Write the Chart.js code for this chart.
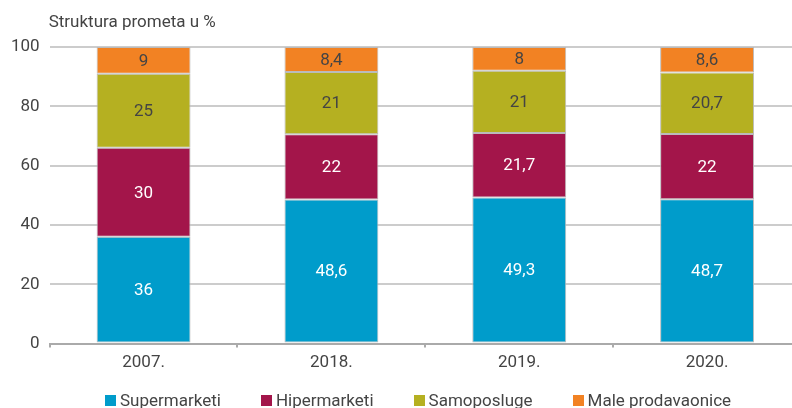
<!DOCTYPE html>
<html>
<head>
<meta charset="utf-8">
<script src="https://cdn.jsdelivr.net/npm/chart.js@4"></script>
<style>
  html, body { margin: 0; padding: 0; background: #fff; overflow: hidden; }
  .wrap { position: relative; width: 792px; height: 408px; overflow: hidden; }
  #chartLegend {
    position: absolute; left: 105px; top: 390px;
    display: flex; font: 17px Roboto, sans-serif; color: #444;
    white-space: nowrap; line-height: 20px;
  }
  .chart-legend-item { display: flex; align-items: center; margin-right: 40px; }
  .chart-legend-item span { display: inline-block; width: 11px; height: 11px; margin-right: 4px; }
</style>
</head>
<body>
<div class="wrap">
  <canvas id="chart" width="801" height="408"></canvas>
  <div id="chartLegend"></div>
</div>
<script>
const years = ["2007.", "2018.", "2019.", "2020."];
const supermarketi = [36, 48.6, 49.3, 48.7];
const hipermarketi = [30, 22, 21.7, 22];
const samoposluge = [25, 21, 21, 20.7];
const maleProdavaonice = [9, 8.4, 8, 8.6];
const yTicks = [0, 20, 40, 60, 80, 100];

const textColor = "#444444";
const fontName = "Roboto";

// title drawn above the plot, left-aligned with the chart area
const titleLabel = {
  id: "titleLabel",
  afterDraw: (chart) => {
    const { ctx, chartArea } = chart;
    ctx.save();
    ctx.font = "17px " + fontName;
    ctx.fillStyle = textColor;
    ctx.textAlign = "left";
    ctx.textBaseline = "middle";
    ctx.fillText("Struktura prometa u %", chartArea.left - 1, 23);
    ctx.restore();
  },
};

// labels in the middle of each bar segment
const barLabels = {
  id: "barLabels",
  afterDatasetsDraw: (chart) => {
    const { ctx } = chart;
    ctx.save();
    ctx.font = "17px " + fontName;
    ctx.textAlign = "center";
    ctx.textBaseline = "middle";
    chart.data.datasets.forEach((dataset, i) => {
      const meta = chart.getDatasetMeta(i);
      meta.data.forEach((bar, j) => {
        const v = dataset.data[j];
        const yMid = (bar.y + bar.base) / 2;
        ctx.fillStyle = dataset.labelColor;
        ctx.fillText(String(v).replace(".", ","), bar.x, yMid + 1);
      });
    });
    ctx.restore();
  },
};

const ctx = document.getElementById("chart").getContext("2d");
const chartBar = new Chart(ctx, {
  type: "bar",
  data: {
    labels: years,
    datasets: [
      { label: "Supermarketi", data: supermarketi, backgroundColor: "#009CCB", labelColor: "#ffffff" },
      { label: "Hipermarketi", data: hipermarketi, backgroundColor: "#A3154A", labelColor: "#ffffff" },
      { label: "Samoposluge", data: samoposluge, backgroundColor: "#B5B021", labelColor: textColor },
      { label: "Male prodavaonice", data: maleProdavaonice, backgroundColor: "#F28223", labelColor: textColor },
    ],
  },
  options: {
    responsive: false,
    animation: false,
    elements: {
      bar: { borderWidth: 1, borderColor: "#bbbbbb", borderSkipped: false },
    },
    datasets: {
      bar: { barPercentage: 1, categoryPercentage: 0.5 },
    },
    layout: { padding: { left: 1, right: 0, top: 47, bottom: 30 } },
    plugins: {
      title: { display: false },
      legend: { display: false },
      tooltip: { enabled: false },
    },
    scales: {
      x: {
        stacked: true,
        grid: {
          offset: true,
          drawOnChartArea: false,
          drawTicks: true,
          tickLength: 4,
          color: "#aaaaaa",
          lineWidth: 2,
        },
        border: { display: true, color: "#aaaaaa", width: 2 },
        ticks: {
          color: textColor,
          font: { family: fontName, size: 17 },
          padding: 5,
        },
      },
      y: {
        stacked: true,
        min: 0,
        max: 100,
        afterBuildTicks: (axis) => {
          axis.ticks = yTicks.map((v) => ({ value: v }));
        },
        grid: { color: "#cccccc", lineWidth: 2, drawTicks: false },
        border: { display: false },
        ticks: {
          color: textColor,
          font: { family: fontName, size: 17 },
          padding: 10,
        },
      },
    },
  },
  plugins: [barLabels, titleLabel],
});

// html legend
function buildLegend(chart) {
  const legendContainer = document.getElementById("chartLegend");
  legendContainer.innerHTML = "";
  chart.data.datasets.forEach((dataset) => {
    const legendItem = document.createElement("div");
    legendItem.classList.add("chart-legend-item");
    const colorBox = document.createElement("span");
    colorBox.style.backgroundColor = dataset.backgroundColor;
    legendItem.appendChild(colorBox);
    legendItem.appendChild(document.createTextNode(dataset.label));
    legendContainer.appendChild(legendItem);
  });
}
buildLegend(chartBar);
</script>
</body>
</html>
